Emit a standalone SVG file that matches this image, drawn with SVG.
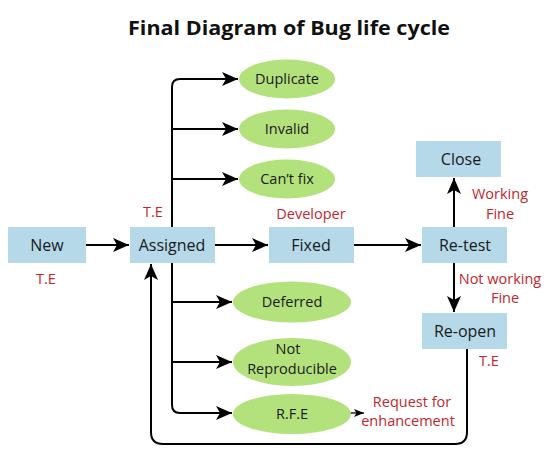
<svg xmlns="http://www.w3.org/2000/svg" width="550" height="458" viewBox="0 0 550 458">
<style>
.box{fill:#b5d9e8;}
.ell{fill:#b3e27d;}
.t{font-family:"Open Sans","Liberation Sans",sans-serif;font-size:16px;fill:#1a1a1a;text-anchor:middle;}
.e{font-size:14.5px;}
.r{font-family:"Open Sans","Liberation Sans",sans-serif;font-size:14.5px;fill:#c1272d;text-anchor:middle;}
.ln{fill:none;stroke:#000;stroke-width:2;}
</style>
<defs>
<marker id="ah" viewBox="0 0 16 14" refX="16" refY="7" markerWidth="16" markerHeight="14" markerUnits="userSpaceOnUse" orient="auto">
<path d="M0,0 L16,7 L0,14 L4,7 Z" fill="#000"/>
</marker>
<marker id="ahs" viewBox="0 0 10 8" refX="10" refY="4" markerWidth="10" markerHeight="8" markerUnits="userSpaceOnUse" orient="auto">
<path d="M0,0 L10,4 L0,8 L2.5,4 Z" fill="#000"/>
</marker>
</defs>
<rect width="550" height="458" fill="#fff"/>
<text x="289" y="35" font-family="Open Sans,Liberation Sans,sans-serif" font-size="20" font-weight="bold" text-anchor="middle" fill="#111" textLength="322" lengthAdjust="spacingAndGlyphs">Final Diagram of Bug life cycle</text>

<g id="connectors">
<line class="ln" x1="86" y1="245" x2="129" y2="245" marker-end="url(#ah)"/>
<line class="ln" x1="215" y1="245" x2="268" y2="245" marker-end="url(#ah)"/>
<line class="ln" x1="354" y1="245" x2="421" y2="245" marker-end="url(#ah)"/>
<line class="ln" x1="454" y1="227" x2="454" y2="178" marker-end="url(#ah)"/>
<line class="ln" x1="454" y1="263" x2="454" y2="312" marker-end="url(#ah)"/>
<path class="ln" d="M172,228 L172,87 Q172,79 180,79 L238,79" marker-end="url(#ah)"/>
<line class="ln" x1="172" y1="129" x2="238" y2="129" marker-end="url(#ah)"/>
<line class="ln" x1="172" y1="179" x2="238" y2="179" marker-end="url(#ah)"/>
<path class="ln" d="M172,263 L172,405 Q172,413 180,413 L232,413" marker-end="url(#ah)"/>
<line class="ln" x1="172" y1="302" x2="232" y2="302" marker-end="url(#ah)"/>
<line class="ln" x1="172" y1="362" x2="232" y2="362" marker-end="url(#ah)"/>
<line x1="332" y1="413" x2="364" y2="413" stroke="#000" stroke-width="1.3" marker-end="url(#ahs)"/>
<path class="ln" d="M467,349 L467,432 Q467,444 455,444 L163,444 Q151,444 151,432 L151,264" marker-end="url(#ah)"/>
</g>

<g id="new"><rect class="box" x="8" y="227" width="78" height="36"/><text class="t" x="47" y="251">New</text></g>
<g id="assigned"><rect class="box" x="130" y="227" width="85" height="36"/><text class="t" x="172" y="251">Assigned</text></g>
<g id="fixed"><rect class="box" x="269" y="227" width="85" height="36"/><text class="t" x="311" y="251">Fixed</text></g>
<g id="retest"><rect class="box" x="422" y="227" width="85" height="36"/><text class="t" x="465" y="251">Re-test</text></g>
<g id="close"><rect class="box" x="416" y="141" width="85" height="36"/><text class="t" x="461" y="165">Close</text></g>
<g id="reopen"><rect class="box" x="422" y="313" width="85" height="36"/><text class="t" x="465" y="337">Re-open</text></g>

<g id="duplicate"><ellipse class="ell" cx="287" cy="79" rx="48" ry="19.5"/><text class="t e" x="287" y="84">Duplicate</text></g>
<g id="invalid"><ellipse class="ell" cx="287" cy="129" rx="48" ry="19.5"/><text class="t e" x="287" y="134">Invalid</text></g>
<g id="cantfix"><ellipse class="ell" cx="287" cy="179" rx="48" ry="19.5"/><text class="t e" x="287" y="184">Can’t fix</text></g>
<g id="deferred"><ellipse class="ell" cx="292" cy="302" rx="59" ry="20.5"/><text class="t e" x="292" y="307">Deferred</text></g>
<g id="notrepro"><ellipse class="ell" cx="292" cy="362" rx="59" ry="24"/><text class="t e" x="288" y="354">Not</text><text class="t e" x="292" y="374">Reproducible</text></g>
<g id="rfe"><ellipse class="ell" cx="292" cy="414" rx="59" ry="20"/><text class="t e" x="292" y="419">R.F.E</text></g>

<g id="labels">
<text class="r" x="153" y="217">T.E</text>
<text class="r" x="46" y="284">T.E</text>
<text class="r" x="311" y="219">Developer</text>
<text class="r" x="500" y="199">Working</text>
<text class="r" x="500" y="219">Fine</text>
<text class="r" x="500" y="284">Not working</text>
<text class="r" x="505" y="303">Fine</text>
<text class="r" x="489" y="366">T.E</text>
<text class="r" x="412" y="407">Request for</text>
<text class="r" x="408" y="426">enhancement</text>
</g>
</svg>
